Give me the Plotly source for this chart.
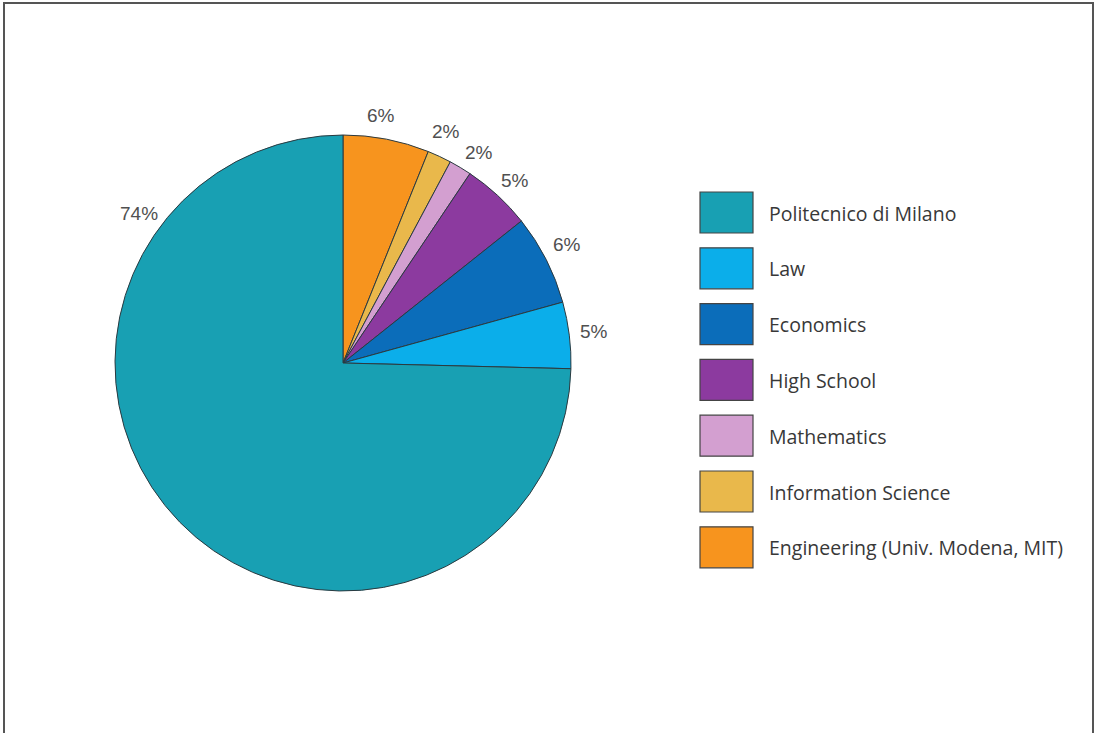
import plotly.graph_objects as go

W, H = 1096, 733

categories = ["Politecnico di Milano", "Law", "Economics", "High School",
              "Mathematics", "Information Science", "Engineering (Univ. Modena, MIT)"]
values = [74.6, 4.7, 6.4, 4.9, 1.6, 1.7, 6.1]
pct_labels = ["74%", "5%", "6%", "5%", "2%", "2%", "6%"]
colors = ["#18a0b3", "#0baeea", "#0b6dba", "#8c3a9f", "#d39fd0", "#e9b84b", "#f7941e"]

# label anchor positions in pixels (style)
label_pos = [(139, 213), (594, 332), (567, 244), (515, 181), (479, 152), (446, 132), (381, 115)]

# pie drawn clockwise from 12 o'clock starting with the last legend entry
fig = go.Figure(go.Pie(
    labels=categories[::-1], values=values[::-1], sort=False, direction="clockwise",
    rotation=0, textinfo="none", hoverinfo="label+percent",
    marker=dict(colors=colors[::-1], line=dict(color="#2b3a40", width=1)),
    domain=dict(x=[115 / W, 571 / W], y=[1 - 591 / H, 1 - 135 / H]),
    showlegend=False,
))

shapes = []
annotations = []

# frame
shapes.append(dict(type="rect", xref="paper", yref="paper",
                   x0=4 / W, x1=1093 / W, y0=-0.05, y1=1 - 3 / H,
                   line=dict(color="#555555", width=2), fillcolor="rgba(0,0,0,0)"))

for txt, (px, py) in zip(pct_labels, label_pos):
    annotations.append(dict(xref="paper", yref="paper", x=px / W, y=1 - py / H,
                            text=txt, showarrow=False, xanchor="center", yanchor="middle",
                            font=dict(family="Liberation Sans, Arial", size=19, color="#505050")))

# custom legend
for i, (cat, col) in enumerate(zip(categories, colors)):
    top = 192 + i * 55.8
    shapes.append(dict(type="rect", xref="paper", yref="paper",
                       x0=700 / W, x1=753 / W, y0=1 - (top + 41) / H, y1=1 - top / H,
                       fillcolor=col, line=dict(color="#444444", width=1.2)))
    annotations.append(dict(xref="paper", yref="paper", x=767 / W, y=1 - (top + 21) / H,
                            text=cat, showarrow=False, xanchor="left", yanchor="middle",
                            font=dict(family="Open Sans", size=19.5, color="#383838")))

fig.update_layout(
    width=W, height=H, margin=dict(l=0, r=0, t=0, b=0),
    paper_bgcolor="white", plot_bgcolor="white",
    shapes=shapes, annotations=annotations,
)

fig.write_html("out.html")
